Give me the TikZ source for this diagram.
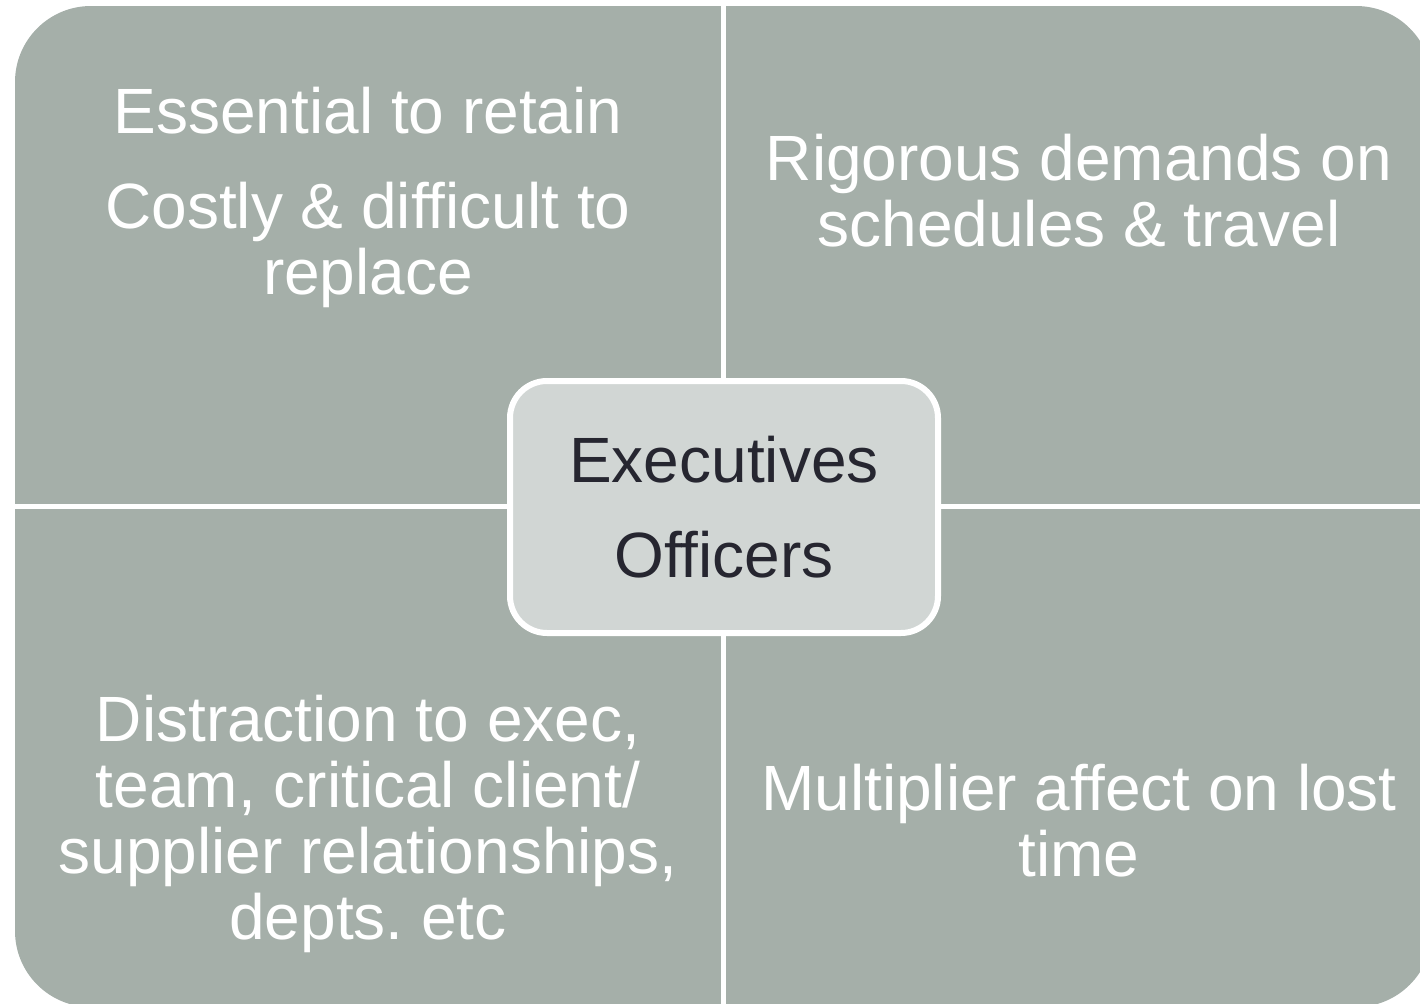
\documentclass[tikz,border=0pt]{standalone}
\usepackage{fontspec}
\setmainfont{Liberation Sans}
\frenchspacing
\definecolor{quadgray}{RGB}{165,175,169}
\definecolor{hubgray}{RGB}{209,214,212}
\definecolor{hubtext}{RGB}{38,38,48}
\tikzstyle{quadtext} = [text=white, align=center, inner sep=0, font=\fontsize{64}{66}\selectfont]
\tikzstyle{hub} = [fill=hubgray, draw=white, line width=6pt, rounded corners=37pt,
  minimum width=428pt, minimum height=252pt, inner sep=0,
  text=hubtext, align=center, font=\fontsize{64}{66}\selectfont]

\begin{document}
\begin{tikzpicture}[x=1pt, y=-1pt]
  \useasboundingbox (0,0) rectangle (1420,1003);
  % Quadrants, cut to one rounded outline
  \begin{scope}
    \clip[rounded corners=76pt] (15,6) rectangle (1432,1007);
    \foreach \xa/\ya/\xb/\yb in {15/6/721/504, 726/6/1432/504, 15/509/721/1007, 726/509/1432/1007} {
      \fill[quadgray] (\xa,\ya) rectangle (\xb,\yb);
    }
  \end{scope}
  % Quadrant labels
  \node[quadtext] (retain) at (368,197) {Essential to retain\\[29pt]Costly \& difficult to\\replace};
  \node[quadtext] (demands) at (1079,191) {Rigorous demands on\\schedules \& travel};
  \node[quadtext] (distract) at (368,824) {Distraction to exec,\\team, critical client/\\supplier relationships,\\depts. etc};
  \node[quadtext] (losttime) at (1079,821) {Multiplier affect on lost\\time};
  % Center box
  \node[hub] (exec) at (724,507) {Executives\\[29pt]Officers};
\end{tikzpicture}
\end{document}
